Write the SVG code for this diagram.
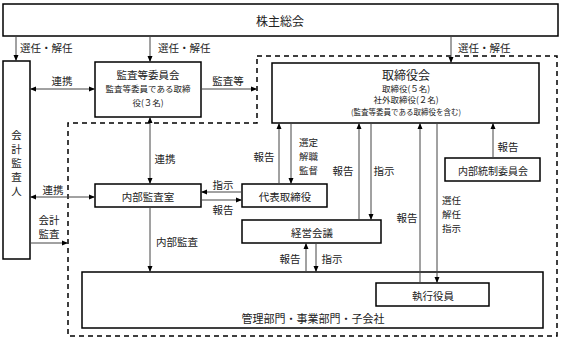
<svg xmlns="http://www.w3.org/2000/svg" width="561" height="340" viewBox="0 0 561 340">
<defs>
<style>
text{font-family:"Noto Sans CJK JP","Noto Sans",sans-serif;fill:#222;font-size:10.5px;dominant-baseline:central}
.c{text-anchor:middle}
.box{fill:#fff;stroke:#000;stroke-width:1.5}
.ln{fill:none;stroke:#444;stroke-width:1}
.dbl{marker-start:url(#a);marker-end:url(#a)}
.end{marker-end:url(#a)}
.s{font-size:8.5px}
.xs{font-size:7.5px}
.st{font-size:9.5px}
</style>
<marker id="a" viewBox="0 0 6 6" refX="6" refY="3" markerWidth="6" markerHeight="6" markerUnits="userSpaceOnUse" orient="auto-start-reverse">
<path d="M0,0.5 L6,3 L0,5.5 z" fill="#000"/>
</marker>
</defs>
<rect width="561" height="340" fill="#fff"/>

<path id="dashed" d="M257,56 H557 V336 H68 V123 H257 Z" fill="none" stroke="#000" stroke-width="1.5" stroke-dasharray="5,4"/>

<g id="shareholders"><rect class="box" x="3" y="4" width="555" height="32"/><text class="c" x="280" y="20" style="font-size:12px">株主総会</text></g>

<g id="auditor"><rect class="box" x="3" y="61" width="27" height="198"/>
<text class="c" x="16.5" y="134">会</text><text class="c" x="16.5" y="148">計</text><text class="c" x="16.5" y="162">監</text><text class="c" x="16.5" y="176">査</text><text class="c" x="16.5" y="190">人</text></g>

<g id="auditcommittee"><rect class="box" x="95" y="62" width="106" height="55"/>
<text class="c" x="148" y="74">監査等委員会</text>
<text class="c s" x="148" y="88">監査等委員である取締</text>
<text class="c s" x="148" y="102">役(３名)</text></g>

<g id="board"><rect class="box" x="272" y="63" width="267" height="60"/>
<text class="c" x="406" y="74" style="font-size:12px">取締役会</text>
<text class="c s" x="406" y="88">取締役(５名)</text>
<text class="c s" x="406" y="99">社外取締役(２名)</text>
<text class="c xs" x="406" y="111">(監査等委員である取締役を含む)</text></g>

<g id="internalaudit"><rect class="box" x="95" y="184" width="106" height="23"/><text class="c" x="148" y="196">内部監査室</text></g>
<g id="ceo"><rect class="box" x="242" y="184" width="85" height="23"/><text class="c" x="285" y="196">代表取締役</text></g>
<g id="mgmtmeeting"><rect class="box" x="242" y="220" width="139" height="23"/><text class="c" x="312" y="232">経営会議</text></g>
<g id="internalcontrol"><rect class="box" x="445" y="158" width="95" height="23"/><text class="c" x="493" y="170" style="font-size:10px">内部統制委員会</text></g>
<g id="departments"><rect class="box" x="82" y="272" width="461" height="56"/><text class="c" x="313" y="318" style="font-size:11px">管理部門・事業部門・子会社</text></g>
<g id="officers"><rect class="box" x="376" y="283" width="113" height="23"/><text class="c" x="433" y="295">執行役員</text></g>

<g id="connectors">
<path class="ln end" d="M16,36 V61"/>
<path class="ln end" d="M150,36 V62"/>
<path class="ln end" d="M451,36 V63"/>
<path class="ln dbl" d="M30,89 H95"/>
<path class="ln end" d="M201,89 H257"/>
<path class="ln dbl" d="M150,117 V184"/>
<path class="ln dbl" d="M30,197 H95"/>
<path class="ln end" d="M30,243 H68"/>
<path class="ln end" d="M150,207 V272"/>
<path class="ln end" d="M242,192 H201"/>
<path class="ln end" d="M201,200 H242"/>
<path class="ln end" d="M279,184 V123"/>
<path class="ln end" d="M291,123 V184"/>
<path class="ln end" d="M359,220 V123"/>
<path class="ln end" d="M371,123 V220"/>
<path class="ln end" d="M420,283 V123"/>
<path class="ln end" d="M437,123 V283"/>
<path class="ln end" d="M493,158 V123"/>
<path class="ln end" d="M306,272 V243"/>
<path class="ln end" d="M316,243 V272"/>
</g>

<g id="labels">
<text x="20" y="47">選任・解任</text>
<text x="158" y="47">選任・解任</text>
<text x="458" y="47">選任・解任</text>
<text class="c" x="62" y="80">連携</text>
<text class="c" x="228" y="80">監査等</text>
<text class="c" x="165" y="158">連携</text>
<text class="c" x="53" y="189">連携</text>
<text class="c" x="49" y="219">会計</text>
<text class="c" x="49" y="233">監査</text>
<text x="156" y="241">内部監査</text>
<text class="c" x="223" y="184">指示</text>
<text class="c" x="223" y="209">報告</text>
<text class="c" x="264" y="156">報告</text>
<text class="st" x="299" y="142">選定</text>
<text class="st" x="299" y="156">解職</text>
<text class="st" x="299" y="170">監督</text>
<text class="c" x="343" y="170">報告</text>
<text class="c" x="384" y="170">指示</text>
<text class="c" x="407" y="217">報告</text>
<text class="st" x="442" y="200">選任</text>
<text class="st" x="442" y="214">解任</text>
<text class="st" x="442" y="228">指示</text>
<text class="c" x="508" y="146">報告</text>
<text class="c" x="290" y="258">報告</text>
<text class="c" x="332" y="258">指示</text>
</g>
</svg>
